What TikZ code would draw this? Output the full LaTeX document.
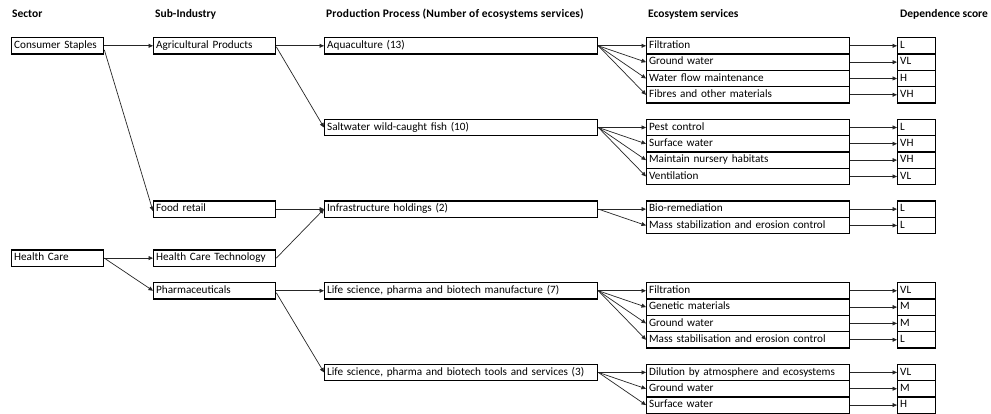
\documentclass[tikz,border=0pt]{standalone}
\usepackage{fontspec}
\setmainfont{Carlito}
\usetikzlibrary{arrows.meta}
\begin{document}
\begin{tikzpicture}[x=1pt,y=-1pt,
  font=\fontsize{11.2}{13}\selectfont,
  bx/.style={draw=black, line width=1.3pt, rectangle, anchor=north west,
    inner xsep=2.5pt, inner ysep=0pt, minimum height=16.33pt,
    text height=7.8pt, text depth=2.4pt, align=left},
  hd/.style={anchor=west, inner sep=0pt,
    font=\fontsize{11.5}{13}\selectfont\bfseries},
  link/.style={draw=black!85, line width=0.7pt, -{Triangle[length=4.5pt,width=4pt]}}]
% white canvas
\path[fill=white] (0,0) rectangle (991,414);
\useasboundingbox (0,0) rectangle (991,414);

% box macro: name, left x, width, row index, text
\newcommand\mkbox[5]{%
  \pgfmathsetmacro\tw{#3-5}%
  \node[bx, minimum width=#3pt, text width=\tw pt] (#1) at (#2,{37+16.33*#4}) {#5};}

% column headers
\node[hd] (h1) at (12,14) {Sector};
\node[hd] (h2) at (155,14) {Sub-Industry};
\node[hd] (h3) at (326,14) {\addfontfeatures{LetterSpace=1.5}Production Process (Number of ecosystems services)};
\node[hd] (h4) at (648,14) {Ecosystem services};
\node[hd] (h5) at (900,14) {Dependence score};

% sectors
\mkbox{cs}{11}{92}{0}{Consumer Staples}
\mkbox{hc}{11}{92}{13}{Health Care}

% sub-industries
\mkbox{ag}{153}{122}{0}{Agricultural Products}
\mkbox{fr}{153}{122}{10}{Food retail}
\mkbox{ht}{153}{122}{13}{Health Care Technology}
\mkbox{ph}{153}{122}{15}{Pharmaceuticals}

% production processes
\mkbox{pa}{324}{273}{0}{Aquaculture (13)}
\mkbox{pb}{324}{273}{5}{Saltwater wild-caught fish (10)}
\mkbox{pc}{324}{273}{10}{Infrastructure holdings (2)}
\mkbox{pd}{324}{273}{15}{Life science, pharma and biotech manufacture (7)}
\mkbox{pe}{324}{273}{20}{Life science, pharma and biotech tools and services (3)}

% ecosystem services
\mkbox{e1}{646}{203}{0}{Filtration}
\mkbox{e2}{646}{203}{1}{Ground water}
\mkbox{e3}{646}{203}{2}{Water flow maintenance}
\mkbox{e4}{646}{203}{3}{Fibres and other materials}
\mkbox{e5}{646}{203}{5}{Pest control}
\mkbox{e6}{646}{203}{6}{Surface water}
\mkbox{e7}{646}{203}{7}{Maintain nursery habitats}
\mkbox{e8}{646}{203}{8}{Ventilation}
\mkbox{e9}{646}{203}{10}{Bio-remediation}
\mkbox{e10}{646}{203}{11}{Mass stabilization and erosion control}
\mkbox{e11}{646}{203}{15}{Filtration}
\mkbox{e12}{646}{203}{16}{Genetic materials}
\mkbox{e13}{646}{203}{17}{Ground water}
\mkbox{e14}{646}{203}{18}{Mass stabilisation and erosion control}
\mkbox{e15}{646}{203}{20}{Dilution by atmosphere and ecosystems}
\mkbox{e16}{646}{203}{21}{Ground water}
\mkbox{e17}{646}{203}{22}{Surface water}

% dependence scores
\mkbox{s1}{897}{38}{0}{L}
\mkbox{s2}{897}{38}{1}{VL}
\mkbox{s3}{897}{38}{2}{H}
\mkbox{s4}{897}{38}{3}{VH}
\mkbox{s5}{897}{38}{5}{L}
\mkbox{s6}{897}{38}{6}{VH}
\mkbox{s7}{897}{38}{7}{VH}
\mkbox{s8}{897}{38}{8}{VL}
\mkbox{s9}{897}{38}{10}{L}
\mkbox{s10}{897}{38}{11}{L}
\mkbox{s11}{897}{38}{15}{VL}
\mkbox{s12}{897}{38}{16}{M}
\mkbox{s13}{897}{38}{17}{M}
\mkbox{s14}{897}{38}{18}{L}
\mkbox{s15}{897}{38}{20}{VL}
\mkbox{s16}{897}{38}{21}{M}
\mkbox{s17}{897}{38}{22}{H}

% sector -> sub-industry
\draw[link] (cs.east) -- (ag.west);
\draw[link] ([yshift=-4pt]cs.east) -- ([yshift=-2pt]fr.west);
\draw[link] (hc.east) -- (ht.west);
\draw[link] (hc.east) -- (ph.west);

% sub-industry -> production process
\draw[link] (ag.east) -- (pa.west);
\draw[link] ([yshift=-1pt]ag.east) -- (pb.west);
\draw[link] (fr.east) -- (pc.west);
\draw[link] (ht.east) -- (pc.west);
\draw[link] (ph.east) -- (pd.west);
\draw[link] ([yshift=-2pt]ph.east) -- (pe.west);

% production process -> ecosystem services
\foreach \e in {e1,e2,e3,e4} \draw[link] (pa.east) -- (\e.west);
\foreach \e in {e5,e6,e7,e8} \draw[link] (pb.east) -- (\e.west);
\foreach \e in {e9,e10} \draw[link] (pc.east) -- (\e.west);
\foreach \e in {e11,e12,e13,e14} \draw[link] (pd.east) -- (\e.west);
\foreach \e in {e15,e16,e17} \draw[link] (pe.east) -- (\e.west);

% ecosystem services -> dependence score
\foreach \i in {1,...,17} \draw[link] (e\i.east) -- (s\i.west);
\end{tikzpicture}
\end{document}
